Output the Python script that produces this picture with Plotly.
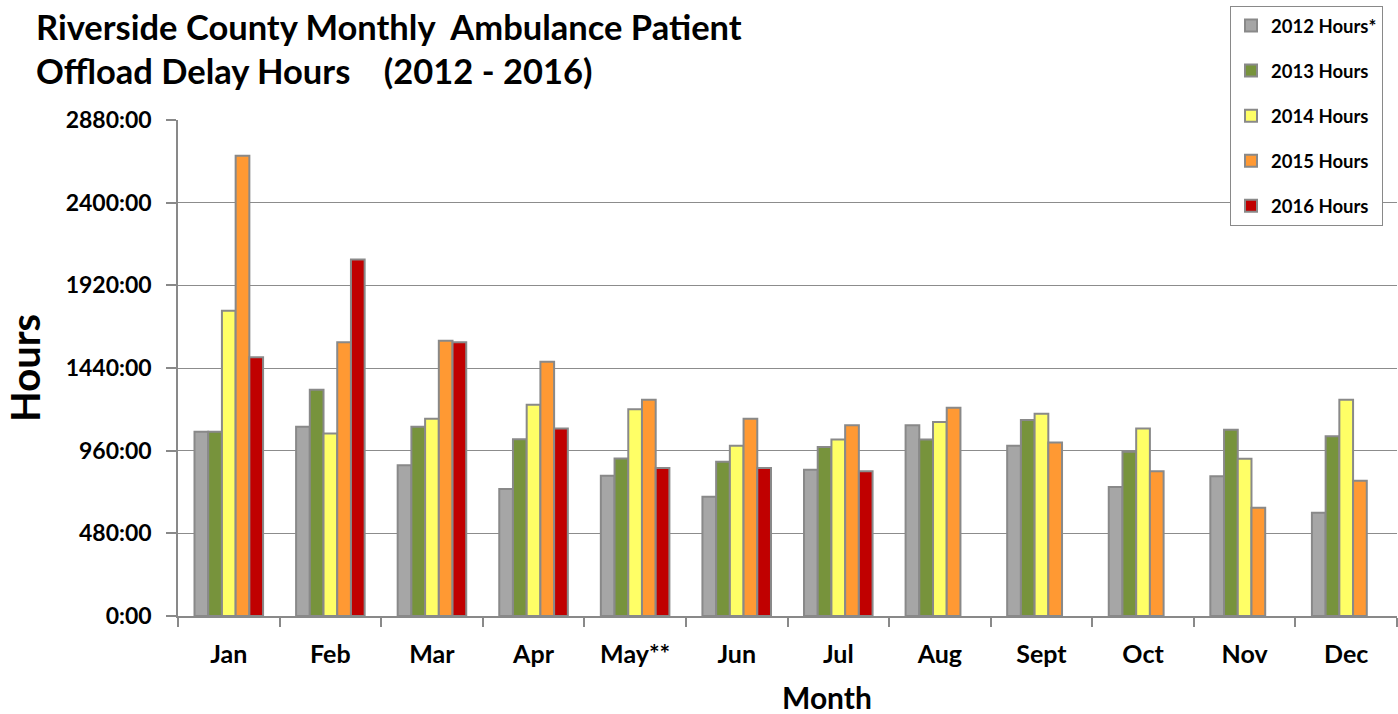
import plotly.graph_objects as go

months = ["Jan", "Feb", "Mar", "Apr", "May**", "Jun", "Jul", "Aug", "Sept", "Oct", "Nov", "Dec"]
h2012 = [1070, 1099, 876, 737, 814, 692, 849, 1108, 988, 749, 812, 600]
h2013 = [1070, 1313, 1099, 1027, 915, 896, 981, 1025, 1138, 954, 1081, 1043]
h2014 = [1772, 1060, 1145, 1227, 1201, 988, 1025, 1126, 1174, 1089, 913, 1255]
h2015 = [2672, 1589, 1598, 1476, 1255, 1145, 1108, 1209, 1008, 841, 628, 785]
h2016 = [1503, 2070, 1589, 1089, 859, 859, 840, None, None, None, None, None]
series_names = ["2012 Hours*", "2013 Hours", "2014 Hours", "2015 Hours", "2016 Hours"]
tick_vals = [0, 480, 960, 1440, 1920, 2400, 2880]
tick_text = ["0:00", "480:00", "960:00", "1440:00", "1920:00", "2400:00", "2880:00"]

colors = ["#A6A6A6", "#77933C", "#FFFF66", "#FF9933", "#C00000"]
FONT = "Lato"

fig = go.Figure()
for i, (name, vals) in enumerate(zip(series_names, [h2012, h2013, h2014, h2015, h2016])):
    fig.add_trace(go.Bar(
        x=months, y=vals, name=name, legendgroup=name,
        marker=dict(color=colors[i], line=dict(color="#898989", width=2)),
    ))

L, T, W, H = 178, 120, 1219, 496

fig.update_layout(
    width=1398, height=714,
    margin=dict(l=L, r=1398 - L - W, t=T, b=714 - T - H),
    paper_bgcolor="white", plot_bgcolor="white",
    barmode="group", bargap=0.325, bargroupgap=0,
    font=dict(family=FONT, color="black"),
    showlegend=True,
    legend=dict(
        x=(1230 - L) / W, y=1 + (T - 6) / H, xanchor="left", yanchor="top",
        bordercolor="#898989", borderwidth=1, bgcolor="white",
        font=dict(family=FONT, size=18.5, color="black", weight="bold"),
        traceorder="grouped", tracegroupgap=18,
        itemwidth=30,
    ),
    xaxis=dict(
        automargin=False,
        showline=True, linecolor="#898989", linewidth=1.5,
        ticks="outside", tickson="boundaries", ticklen=9, tickcolor="#898989", tickwidth=1.5,
        tickfont=dict(family=FONT, size=25, weight="bold"),
        ticklabelstandoff=15,
    ),
    yaxis=dict(
        automargin=False,
        range=[0, 2880], tickvals=tick_vals, ticktext=tick_text,
        showline=True, linecolor="#898989", linewidth=1.5,
        showgrid=True, gridcolor="#8c8c8c", gridwidth=1,
        ticks="outside", ticklen=10, tickcolor="#898989", tickwidth=1.5,
        tickfont=dict(family=FONT, size=23, weight="bold"),
        ticklabelstandoff=10,
        zeroline=False,
    ),
    annotations=[
        dict(text="Riverside County Monthly  Ambulance Patient", xref="paper", yref="paper",
             x=(34 - L) / W, y=1 + (T - 26) / H, xanchor="left", yanchor="middle",
             showarrow=False, font=dict(family=FONT, size=34.5, weight="bold", color="black")),
        dict(text="Offload Delay Hours    (2012 - 2016)", xref="paper", yref="paper",
             x=(34 - L) / W, y=1 + (T - 71) / H, xanchor="center" if False else "left", yanchor="middle",
             showarrow=False, font=dict(family=FONT, size=34.5, weight="bold", color="black")),
        dict(text="Hours", xref="paper", yref="paper", textangle=-90,
             x=(25 - L) / W, y=(T + H - 368) / H, xanchor="center", yanchor="middle",
             showarrow=False, font=dict(family=FONT, size=40, weight="bold", color="black")),
        dict(text="Month", xref="paper", yref="paper",
             x=(827 - L) / W, y=(T + H - 697) / H, xanchor="center", yanchor="middle",
             showarrow=False, font=dict(family=FONT, size=30, weight="bold", color="black")),
    ],
)

fig.write_html("out.html", config={"displayModeBar": False},
               post_script="document.body.style.margin='0px';document.body.style.overflow='hidden';")
